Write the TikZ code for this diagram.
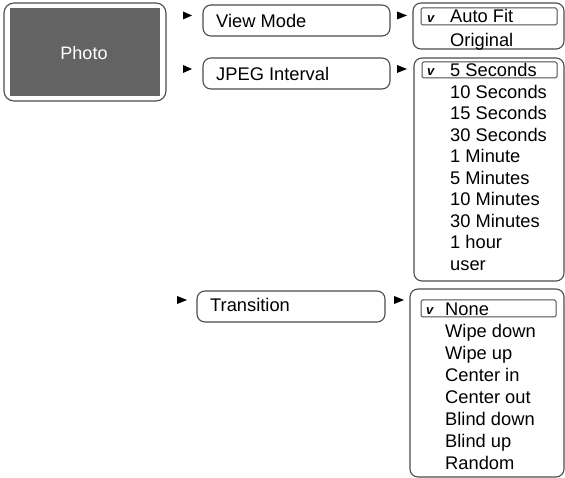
\documentclass[tikz,border=0pt]{standalone}
\usepackage{fontspec}
\setmainfont{Liberation Sans}
\begin{document}
\begin{tikzpicture}[x=1pt,y=-1pt,
  frame/.style={draw=black!70,line width=1.1pt,rounded corners=8pt},
  selbox/.style={draw=black!70,line width=1pt,rounded corners=1.5pt},
  lbl/.style={anchor=base west,inner sep=0pt,font=\fontsize{18.3}{18}\selectfont},
  chk/.style={anchor=base west,inner sep=0pt,font=\fontsize{13}{13}\selectfont\bfseries\itshape},
  tri/.style={fill=black}]
\useasboundingbox (0,0) rectangle (565,478);
% Photo
\draw[frame,rounded corners=10pt] (4,3) rectangle (166,101);
\fill[fill=black!61] (10,8) rectangle (160,96);
\node[font=\fontsize{18}{18}\selectfont,text=white,inner sep=0pt] (photo) at (84,53) {Photo};
% left arrows
\fill[tri] (183,11.5) -- (192,15.5) -- (183,19.5) -- cycle;
\fill[tri] (183,65) -- (192,69) -- (183,73) -- cycle;
\fill[tri] (177,296) -- (187,300) -- (177,304) -- cycle;
% menu boxes
\draw[frame] (203,5) rectangle (390,36);
\node[lbl] (vm) at (216,27.5) {View Mode};
\draw[frame] (203,58) rectangle (390,89);
\node[lbl] (jpeg) at (216,81) {JPEG Interval};
\draw[frame] (197,291) rectangle (385,322);
\node[lbl] (tr) at (210,311.5) {Transition};
% right arrows
\fill[tri] (397,11.5) -- (407,15.5) -- (397,19.5) -- cycle;
\fill[tri] (397,65) -- (407,69) -- (397,73) -- cycle;
\fill[tri] (394,296) -- (404,300) -- (394,304) -- cycle;
% View mode list
\draw[frame] (413,3) rectangle (564,49);
\draw[selbox] (421,8) rectangle (557,25);
\node[chk] (c1) at (427,22.5) {v};
\node[lbl] (af) at (450,23) {Auto Fit};
\node[lbl] (or) at (450,47) {Original};
% JPEG list
\draw[frame] (414,58) rectangle (564,281);
\draw[selbox] (422,62) rectangle (557,78);
\node[chk] (c2) at (427,76) {v};
\foreach \t [count=\i from 0] in {5 Seconds,10 Seconds,15 Seconds,30 Seconds,1 Minute,5 Minutes,10 Minutes,30 Minutes,1 hour,user}
  \node[lbl] (j\i) at (450,76.5+21.55*\i) {\t};
% Transition list
\draw[frame] (410,289) rectangle (564,477);
\draw[selbox] (421,300) rectangle (556,317);
\node[chk] (c3) at (426,314.5) {v};
\foreach \t [count=\i from 0] in {None,Wipe down,Wipe up,Center in,Center out,Blind down,Blind up,Random}
  \node[lbl] (t\i) at (445,315.5+22*\i) {\t};
\end{tikzpicture}
\end{document}
